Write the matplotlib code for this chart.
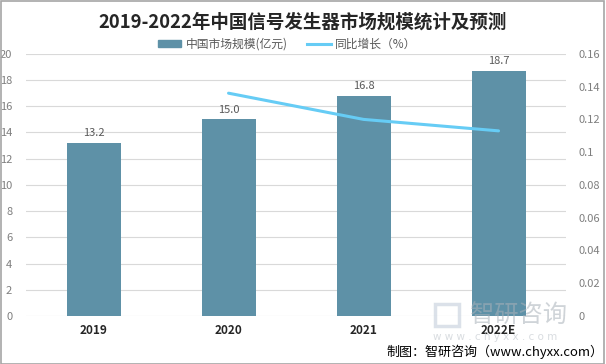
import matplotlib

matplotlib.use("Agg")
import matplotlib.pyplot as plt
from matplotlib.lines import Line2D
from matplotlib.patches import Patch, Rectangle
from matplotlib.ticker import FuncFormatter, MultipleLocator

plt.rcParams["font.family"] = ["Noto Sans CJK SC", "DejaVu Sans"]

# data
years = ["2019", "2020", "2021", "2022E"]
market_size = [13.2, 15.0, 16.8, 18.7]  # 亿元
growth_years = ["2020", "2021", "2022E"]
growth_rate = [0.136, 0.12, 0.113]

BAR_COLOR = "#5E91A7"
LINE_COLOR = "#66CCF5"
GRID_COLOR = "#D9D9D9"
TICK_COLOR = "#7F7F7F"

fig = plt.figure(figsize=(6.06, 3.64), dpi=100)
ax = fig.add_axes([0.043, 0.132, 0.891, 0.72])
ax2 = ax.twinx()

x = list(range(len(years)))
ax.bar(x, market_size, width=0.4, color=BAR_COLOR, zorder=2)
for xi, v in zip(x, market_size):
    ax.text(xi, v + 0.35, f"{v:.1f}", ha="center", va="bottom", fontsize=8, color="#595959")

gx = [years.index(y) for y in growth_years]
ax2.plot(gx, growth_rate, color=LINE_COLOR, lw=2.2, solid_capstyle="round", zorder=3)

ax.set_xlim(-0.5, 3.5)
ax.set_ylim(0, 20)
ax.yaxis.set_major_locator(MultipleLocator(2))
ax2.set_ylim(0, 0.16)
ax2.yaxis.set_major_locator(MultipleLocator(0.02))
ax2.yaxis.set_major_formatter(FuncFormatter(lambda v, _: f"{v:.2f}".rstrip("0").rstrip(".") if v else "0"))

ax.grid(axis="y", color=GRID_COLOR, lw=0.8, zorder=0)
ax.set_axisbelow(True)
for a in (ax, ax2):
    for s in a.spines.values():
        s.set_visible(False)
    a.tick_params(length=0, labelsize=8, labelcolor=TICK_COLOR)
ax.tick_params(axis="y", pad=10)
ax2.tick_params(axis="y", pad=9)
ax.set_xticks(x)
ax.set_xticklabels(years, fontsize=8.5, fontweight="bold", color="#262626")
ax.tick_params(axis="x", pad=6)

fig.text(0.5, 0.94, "2019-2022年中国信号发生器市场规模统计及预测", ha="center", va="center",
         fontsize=13.3, fontweight="bold", color="#262626")

handles = [Patch(color=BAR_COLOR), Line2D([], [], color=LINE_COLOR, lw=2.2)]
fig.legend(handles, ["中国市场规模(亿元)", "同比增长（%）"], loc="center", bbox_to_anchor=(0.474, 0.878),
           ncol=2, frameon=False, fontsize=8.5, labelcolor="#595959", handlelength=2.0,
           handleheight=0.5, columnspacing=1.6, handletextpad=0.4)

# watermark
fig.text(0.775, 0.132, "智研咨询", fontsize=17.5, color="#A9B1B9", alpha=0.55, ha="left", va="center")
fig.text(0.715, 0.074, "w w w . c h y x x . c o m", fontsize=7.5, color="#C0C6CC", alpha=0.6,
         ha="left", va="center", family="DejaVu Sans")
fig.patches.append(Rectangle((0.718, 0.105), 0.04, 0.06, transform=fig.transFigure,
                             fill=False, edgecolor="#C3CEDB", lw=2.5, alpha=0.6))

fig.text(0.995, 0.033, "制图：智研咨询（www.chyxx.com）", ha="right", va="center", fontsize=9.4, color="#000000")

fig.patches.append(Rectangle((0.001, 0.001), 0.996, 0.996, transform=fig.transFigure,
                             fill=False, edgecolor="#A6A6A6", lw=1.2))

fig.savefig("out.png", dpi=100)
